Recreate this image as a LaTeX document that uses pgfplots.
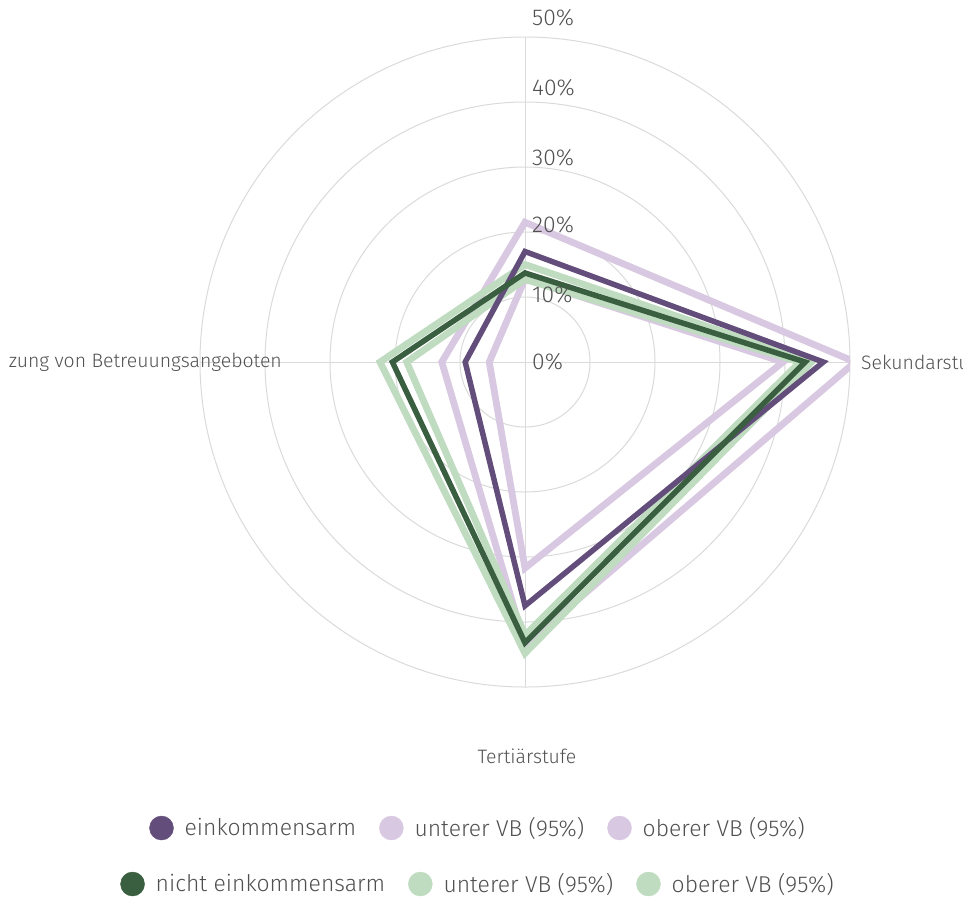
\documentclass[border=0pt]{standalone}
\usepackage{pgfplots}
\pgfplotsset{compat=1.18}
\usepgfplotslibrary{polar}
\usepackage{fontspec}
\setmainfont{Fira Sans}[UprightFont={* Light}]
\definecolor{dpurple}{RGB}{99,77,122}
\definecolor{lpurple}{RGB}{217,200,225}
\definecolor{dgreen}{RGB}{58,94,64}
\definecolor{lgreen}{RGB}{191,219,192}
\definecolor{txt}{RGB}{80,80,80}
\definecolor{gridc}{RGB}{218,218,218}
\begin{document}
\begin{tikzpicture}[x=1bp,y=1bp,font=\fontsize{19.5}{23}\selectfont,text=txt]
\begin{polaraxis}[
  at={(525bp,-362bp)}, anchor=center,
  scale only axis, width=650bp, height=650bp,
  xmin=0, xmax=360, ymin=0, ymax=50,
  xtick={0,90,180,270}, ytick={10,20,30,40},
  xticklabels={}, yticklabels={},
  major tick length=0pt,
  grid=both, major grid style={gridc, line width=1bp},
  axis line style={gridc, line width=1bp},
  line join=miter,
]
% light purple bounds
\addplot[lpurple, line width=6.8bp] coordinates {(90,21.5) (0,50.8) (270,43.5) (180,12.8)} -- cycle;
\addplot[lpurple, line width=6.8bp] coordinates {(90,12.8) (0,39.7) (270,31.7) (180,5.5)} -- cycle;
% light green bounds
\addplot[lgreen, line width=6.8bp] coordinates {(90,15.0) (0,44.1) (270,44.8) (180,22.3)} -- cycle;
\addplot[lgreen, line width=6.8bp] coordinates {(90,12.7) (0,42.3) (270,42.0) (180,18.2)} -- cycle;
% main series
\addplot[dpurple, line width=5.5bp] coordinates {(90,17.0) (0,45.9) (270,37.5) (180,9.2)} -- cycle;
\addplot[dgreen, line width=5.5bp] coordinates {(90,13.7) (0,43.1) (270,43.2) (180,20.4)} -- cycle;
\end{polaraxis}
% radial labels
\foreach \y/\t in {18/50, 88/40, 158/30, 225/20, 295/10, 362/0}{
  \node[anchor=west, inner sep=0pt, font=\fontsize{23}{27}\selectfont] at (532,-\y) {\t\%};
}
% category labels
\node[anchor=west, inner sep=0pt] at (861,-362) {Sekundarstufe};
\node[anchor=east, inner sep=0pt] at (282,-362) {zung von Betreuungsangeboten};
\node[anchor=center, inner sep=0pt] at (527,-756) {Tertiärstufe};
% legends
\begin{axis}[hide axis, at={(477bp,-828bp)}, anchor=center, scale only axis,
  width=10bp, height=10bp, xmin=0, xmax=1, ymin=0, ymax=1,
  legend columns=3,
  legend style={at={(0.5,0.5)}, anchor=center, draw=none, fill=none,
    font=\fontsize{23}{27}\selectfont, text=txt,
    nodes={inner sep=0pt},
    /tikz/every odd column/.style={column sep=11bp},
    /tikz/every even column/.style={column sep=23bp}},
  legend image code/.code={\fill[#1] (0bp,0bp) circle (12bp);},
]
\addlegendimage{dpurple}\addlegendentry{einkommensarm}
\addlegendimage{lpurple}\addlegendentry{unterer VB (95\%)}
\addlegendimage{lpurple}\addlegendentry{oberer VB (95\%)}
\end{axis}
\begin{axis}[hide axis, at={(477bp,-884bp)}, anchor=center, scale only axis,
  width=10bp, height=10bp, xmin=0, xmax=1, ymin=0, ymax=1,
  legend columns=3,
  legend style={at={(0.5,0.5)}, anchor=center, draw=none, fill=none,
    font=\fontsize{23}{27}\selectfont, text=txt,
    nodes={inner sep=0pt},
    /tikz/every odd column/.style={column sep=11bp},
    /tikz/every even column/.style={column sep=23bp}},
  legend image code/.code={\fill[#1] (0bp,0bp) circle (12bp);},
]
\addlegendimage{dgreen}\addlegendentry{nicht einkommensarm}
\addlegendimage{lgreen}\addlegendentry{unterer VB (95\%)}
\addlegendimage{lgreen}\addlegendentry{oberer VB (95\%)}
\end{axis}
\pgfresetboundingbox
\useasboundingbox (0,0) rectangle (963,-898);
\end{tikzpicture}
\end{document}
